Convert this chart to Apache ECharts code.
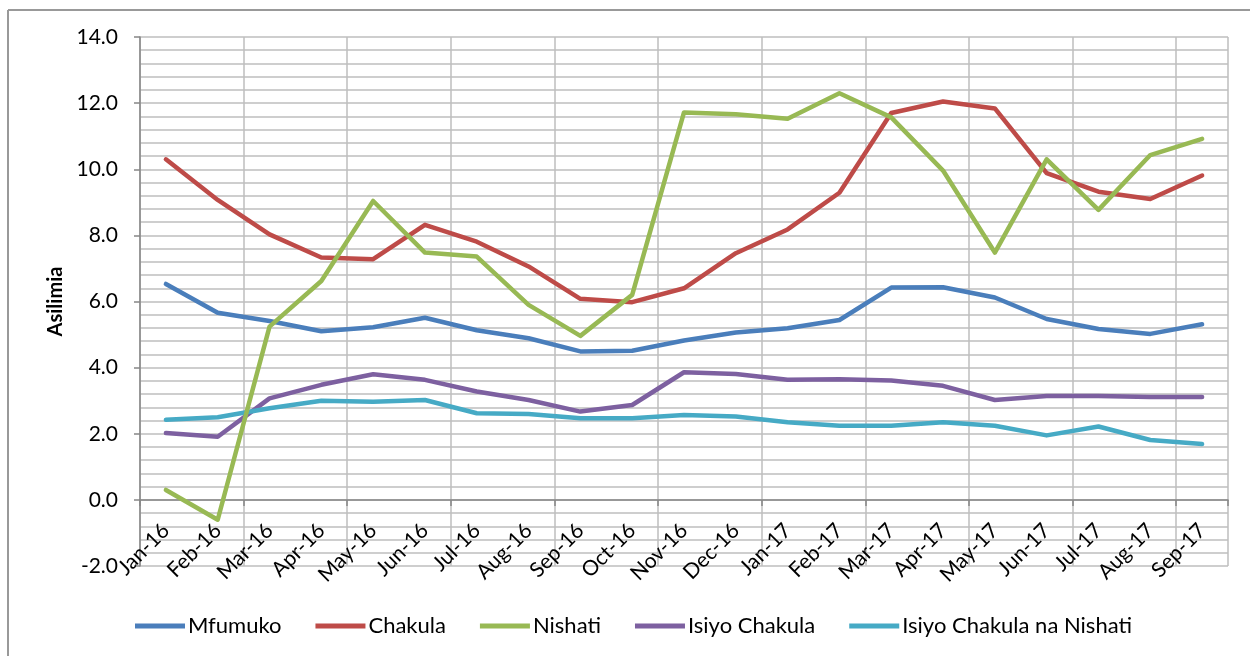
<!DOCTYPE html>
<html>
<head>
<meta charset="utf-8">
<script src="https://cdn.jsdelivr.net/npm/echarts@6/dist/echarts.min.js"></script>
<style>html,body{margin:0;padding:0;background:#fff}#c{width:1250px;height:656px}</style>
</head>
<body>
<div id="c"></div>
<script>
const categories = ['Jan-16','Feb-16','Mar-16','Apr-16','May-16','Jun-16','Jul-16','Aug-16','Sep-16','Oct-16','Nov-16','Dec-16','Jan-17','Feb-17','Mar-17','Apr-17','May-17','Jun-17','Jul-17','Aug-17','Sep-17'];
const mfumuko = [6.53,5.66,5.41,5.10,5.22,5.51,5.13,4.89,4.49,4.51,4.82,5.06,5.19,5.44,6.42,6.43,6.12,5.47,5.17,5.02,5.31];
const chakula = [10.30,9.07,8.03,7.33,7.28,8.32,7.81,7.06,6.08,5.98,6.40,7.46,8.18,9.29,11.70,12.05,11.84,9.88,9.32,9.10,9.81];
const nishati = [0.30,-0.60,5.24,6.62,9.04,7.48,7.36,5.90,4.96,6.20,11.72,11.66,11.53,12.30,11.57,9.96,7.48,10.30,8.77,10.43,10.92];
const isiyoChakula = [2.02,1.91,3.07,3.48,3.80,3.63,3.28,3.02,2.67,2.87,3.86,3.81,3.63,3.65,3.61,3.45,3.02,3.14,3.14,3.11,3.11];
const isiyoChakulaNishati = [2.42,2.50,2.77,3.00,2.97,3.02,2.62,2.60,2.47,2.47,2.57,2.52,2.35,2.24,2.24,2.35,2.24,1.95,2.22,1.81,1.69];
const seriesNames = ['Mfumuko','Chakula','Nishati','Isiyo Chakula','Isiyo Chakula na Nishati'];
const colors = ['#4A7EBB','#BE4B48','#98B954','#7D60A0','#46AAC5'];
const font = 'Lato, "Open Sans", sans-serif';

const chart = echarts.init(document.getElementById('c'), null, {renderer:'canvas'});
const dataSets = [mfumuko, chakula, nishati, isiyoChakula, isiyoChakulaNishati];
chart.setOption({
  animation: false,
  color: colors,
  grid: {left:140, right:22, top:37, bottom:90},
  legend: {
    left: 130, top: 610,
    icon: 'rect', itemWidth: 50, itemHeight: 5, itemGap: 34,
    textStyle: {fontFamily: font, fontSize: 22, color: '#000', padding:[0,0,0,-2]},
    data: seriesNames
  },
  xAxis: [{
    type: 'category',
    data: categories,
    boundaryGap: true,
    axisLine: {onZero: true, lineStyle: {color: '#868686', width: 1.5}},
    axisTick: {show: true, length: 6, lineStyle: {color: '#868686', width: 1.5}},
    axisLabel: {show: false},
    splitLine: {show: true, lineStyle: {color: '#BEBEBE', width: 1.5}}
  }, {
    type: 'category',
    data: categories,
    boundaryGap: true,
    position: 'bottom',
    offset: -66,
    axisLine: {show: false, onZero: false},
    axisTick: {show: false},
    axisLabel: {rotate: 45, margin: 27, fontFamily: font, fontSize: 21, color: '#000', interval: 0},
    splitLine: {show: false}
  }],
  yAxis: {
    type: 'value',
    min: -2, max: 14, interval: 2,
    name: 'Asilimia', nameLocation: 'middle', nameGap: 74,
    nameTextStyle: {fontFamily: font, fontSize: 20, fontWeight: 'bold', color: '#000'},
    axisLine: {show: true, lineStyle: {color: '#868686', width: 1.5}},
    axisTick: {show: true, length: 6, lineStyle: {color: '#868686', width: 1.5}},
    axisLabel: {fontFamily: font, fontSize: 21, color: '#000', margin: 22, formatter: v => v.toFixed(1)},
    splitLine: {show: true, lineStyle: {color: '#BEBEBE', width: 1.5}},
    minorTick: {show: false, splitNumber: 5},
    minorSplitLine: {show: true, lineStyle: {color: '#BEBEBE', width: 1.5}}
  },
  graphic: [
    {type:'line', shape:{x1:8, y1:10, x2:1250, y2:10}, style:{stroke:'#999', lineWidth:2}},
    {type:'line', shape:{x1:8, y1:10, x2:8, y2:656}, style:{stroke:'#999', lineWidth:2}}
  ],
  series: dataSets.map((d, i) => ({
    name: seriesNames[i], type: 'line', data: d, xAxisIndex: 0,
    symbol: 'none', lineStyle: {width: 4.5, color: colors[i], cap:'round', join:'round'},
    z: 2 + (i === 2 ? 1 : 0)
  }))
});
</script>
</body>
</html>
